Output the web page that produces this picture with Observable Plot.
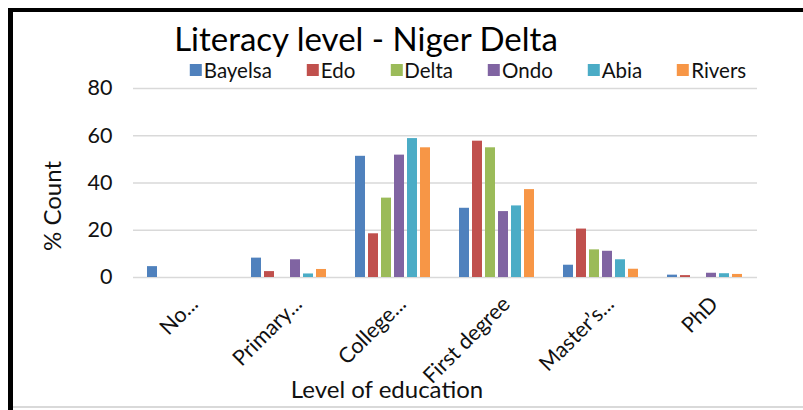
<!DOCTYPE html>
<html>
<head>
<meta charset="utf-8">
<script src="https://cdn.jsdelivr.net/npm/d3@7"></script>
<script src="https://cdn.jsdelivr.net/npm/@observablehq/plot@0.6"></script>
<style>
  html, body { margin: 0; padding: 0; background: #fff; }
  #wrap { position: relative; width: 803px; height: 410px; overflow: hidden; background: #fff; font-family: Lato, "Open Sans", sans-serif; color: #111; }
  #frameL { position: absolute; left: 8px; top: 8px; width: 5px; height: 402px; background: #000; }
  #frameT { position: absolute; left: 8px; top: 8px; width: 795px; height: 4px; background: #000; }
  #frameB { position: absolute; left: 13px; top: 406px; width: 790px; height: 2px; background: #d9d9d9; }
  #title { position: absolute; left: 366px; top: 22px; transform: translateX(-50%); font-size: 33px; line-height: 1; white-space: nowrap; color: #000; }
  #legend { position: absolute; left: 468px; top: 60px; transform: translateX(-50%); display: flex; gap: 35px; font-size: 20.5px; line-height: 20px; white-space: nowrap; }
  #legend .item { display: flex; align-items: center; gap: 2px; }
  #legend .sw { width: 12px; height: 12px; display: inline-block; }
  #ylab { position: absolute; left: 52px; top: 206px; transform: translate(-50%, -50%) rotate(-90deg); font-size: 24px; line-height: 1; white-space: nowrap; }
  #xlab { position: absolute; left: 387px; top: 377px; transform: translateX(-50%); font-size: 24px; line-height: 1; white-space: nowrap; }
  #chart { position: absolute; left: 0; top: 0; }
</style>
</head>
<body>
<div id="wrap">
  <div id="chart"></div>
  <div id="frameL"></div>
  <div id="frameT"></div>
  <div id="frameB"></div>
  <div id="title">Literacy level - Niger Delta</div>
  <div id="legend"></div>
  <div id="ylab">% Count</div>
  <div id="xlab">Level of education</div>
</div>
<script>
// ---- data ----
const categories = ["No...", "Primary...", "College...", "First degree", "Master\u2019s...", "PhD"];
const states = ["Bayelsa", "Edo", "Delta", "Ondo", "Abia", "Rivers"];
const bayelsa = [4.6, 8.2, 51.3, 29.3, 5.2, 1.0];
const edo     = [0,   2.5, 18.5, 57.7, 20.5, 0.8];
const delta   = [0,   0,   33.6, 54.9, 11.7, 0];
const ondo    = [0,   7.5, 51.8, 27.9, 11.1, 1.8];
const abia    = [0,   1.5, 58.8, 30.3, 7.5,  1.6];
const rivers  = [0,   3.4, 54.9, 37.2, 3.5,  1.3];
const yTicks = [0, 20, 40, 60, 80];
const colors = ["#4F81BD", "#C0504D", "#9BBB59", "#8064A2", "#4BACC6", "#F79646"];

const series = [bayelsa, edo, delta, ondo, abia, rivers];
const rows = [];
categories.forEach((c, i) => {
  states.forEach((s, j) => rows.push({category: c, state: s, value: series[j][i]}));
});

// legend
const legend = document.getElementById("legend");
states.forEach((s, j) => {
  const it = document.createElement("div");
  it.className = "item";
  it.innerHTML = `<span class="sw" style="background:${colors[j]}"></span><span>${s}</span>`;
  legend.appendChild(it);
});

const chart = Plot.plot({
  width: 803,
  height: 410,
  marginLeft: 133,
  marginRight: 46,
  marginTop: 88,
  marginBottom: 133,
  style: {fontFamily: "Lato, 'Open Sans', sans-serif", fontSize: "21.5px", color: "#111", background: "transparent"},
  fx: {domain: categories, padding: 0, axis: "bottom", tickRotate: -45, tickSize: 0, tickPadding: 18, label: null},
  x: {domain: states, paddingInner: 0.21, paddingOuter: 0.82, axis: null},
  y: {domain: [0, 80], ticks: yTicks, tickSize: 0, tickPadding: 21, label: null},
  color: {domain: states, range: colors},
  marks: [
    Plot.ruleY(yTicks, {stroke: "#d9d9d9", strokeWidth: 1.5}),
    Plot.barY(rows, {fx: "category", x: "state", y: "value", fill: "state"})
  ]
});
// nudge the rotated category labels slightly right/down, as in the original
chart.querySelectorAll('[aria-label^="fx-axis"] text').forEach(t => {
  const tr = t.getAttribute("transform") || "";
  t.setAttribute("transform", "translate(9,5) " + tr);
});
document.getElementById("chart").appendChild(chart);
</script>
</body>
</html>
